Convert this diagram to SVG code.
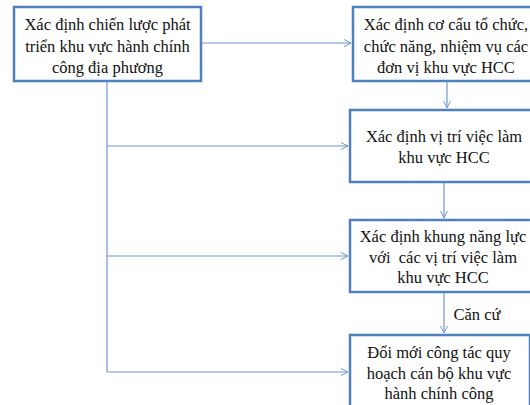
<svg xmlns="http://www.w3.org/2000/svg" width="530" height="405" viewBox="0 0 530 405">
<style>
.box{fill:#fff;stroke:#4f81bd;stroke-width:2.5}
.c{fill:none;stroke:#6f97cf;stroke-width:1.2}
text{font-family:"Liberation Serif","Times New Roman",serif;font-size:16.5px;fill:#111;text-anchor:middle}
</style>
<defs>
<marker id="a" markerWidth="10" markerHeight="10" refX="8" refY="4" orient="auto" markerUnits="userSpaceOnUse">
<path d="M1,0.5 L8,4 L1,7.5" fill="none" stroke="#6f97cf" stroke-width="1"/>
</marker>
</defs>
<g id="connectors">
<path class="c" d="M201,43 H351" marker-end="url(#a)"/>
<path class="c" d="M107,81 V372"/>
<path class="c" d="M107,146 H348" marker-end="url(#a)"/>
<path class="c" d="M107,256 H348" marker-end="url(#a)"/>
<path class="c" d="M107,372 H348" marker-end="url(#a)"/>
<path class="c" d="M447,81 V108" marker-end="url(#a)"/>
<path class="c" d="M444,182 V218" marker-end="url(#a)"/>
<path class="c" d="M444,292 V333" marker-end="url(#a)"/>
<text x="477" y="320">Căn cứ</text>
</g>
<g id="n1">
<rect class="box" x="14" y="7" width="187" height="74"/>
<text x="107.5" y="30">Xác định chiến lược phát</text>
<text x="107.5" y="52">triển khu vực hành chính</text>
<text x="107.5" y="73">công địa phương</text>
</g>
<g id="n2">
<rect class="box" x="353" y="7" width="190" height="74"/>
<text x="446" y="30">Xác định cơ cấu tổ chức,</text>
<text x="446" y="52">chức năng, nhiệm vụ các</text>
<text x="446" y="73">đơn vị khu vực HCC</text>
</g>
<g id="n3">
<rect class="box" x="350" y="110" width="190" height="72"/>
<text x="444" y="142">Xác định vị trí việc làm</text>
<text x="444" y="163">khu vực HCC</text>
</g>
<g id="n4">
<rect class="box" x="350" y="220" width="190" height="72"/>
<text x="443" y="242">Xác định khung năng lực</text>
<text x="443" y="263">với&#160; các vị trí việc làm</text>
<text x="443" y="283">khu vực HCC</text>
</g>
<g id="n5">
<rect class="box" x="350" y="335" width="180" height="80"/>
<text x="439" y="358">Đổi mới công tác quy</text>
<text x="439" y="379">hoạch cán bộ khu vực</text>
<text x="439" y="399">hành chính công</text>
</g>
</svg>
